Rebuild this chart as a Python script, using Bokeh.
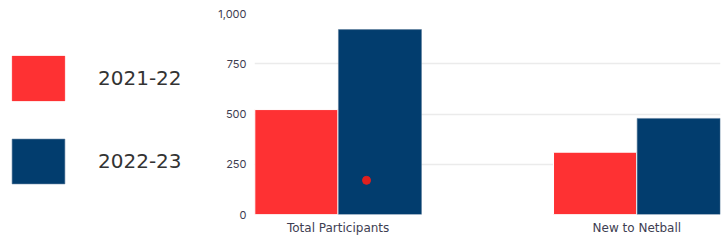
from bokeh.plotting import figure
from bokeh.layouts import row
from bokeh.models import ColumnDataSource, FixedTicker, Legend, LegendItem, NumeralTickFormatter, Range1d
from bokeh.embed import file_html
from bokeh.resources import INLINE

categories = ["Total Participants", "New to Netball"]
seasons = ["2021-22", "2022-23"]
values_2021_22 = [522, 310]
values_2022_23 = [920, 478]
colors = ["#FE3133", "#023D6E"]
y_ticks = [0, 250, 500, 750, 1000]
marker_offset = [0.095]
marker_value = [170]

xs = list(range(len(categories)))
bw = 0.278
off = 0.14
H = 241

p = figure(width=514, height=H, output_backend="svg", toolbar_location=None,
           x_range=Range1d(-0.28, len(categories) - 1 + 0.28), y_range=Range1d(0, 1000),
           min_border_left=46, min_border_right=2, min_border_top=13, min_border_bottom=27)
p.outline_line_color = None

s1 = ColumnDataSource(dict(x=[x - off for x in xs], top=values_2021_22))
s2 = ColumnDataSource(dict(x=[x + off for x in xs], top=values_2022_23))
p.vbar(x="x", top="top", width=bw, source=s1, fill_color=colors[0], line_color="white", line_width=1)
p.vbar(x="x", top="top", width=bw, source=s2, fill_color=colors[1], line_color="#5a7a9a", line_width=0.6)

p.scatter(x=[xs[0] + marker_offset[0]], y=marker_value, size=8, color="#E0201E")

p.xaxis.ticker = FixedTicker(ticks=xs)
p.xaxis.major_label_overrides = {i: c for i, c in enumerate(categories)}
p.xaxis.axis_line_color = None
p.xaxis.major_tick_line_color = None
p.xaxis.minor_tick_line_color = None
p.xaxis.major_label_text_font = "DejaVu Sans"
p.xaxis.major_label_text_font_size = "12px"
p.xaxis.major_label_text_color = "#3e3e52"
p.xaxis.major_label_standoff = 0
p.xgrid.grid_line_color = None

p.yaxis.ticker = FixedTicker(ticks=y_ticks)
p.yaxis.formatter = NumeralTickFormatter(format="0,0")
p.yaxis.axis_line_color = None
p.yaxis.major_tick_line_color = None
p.yaxis.minor_tick_line_color = None
p.yaxis.major_label_text_font = "Inter"
p.yaxis.major_label_text_font_size = "11px"
p.yaxis.major_label_text_color = "#3e3e52"
p.yaxis.major_label_standoff = 2
p.ygrid.grid_line_color = "#ebebeb"
p.ygrid.grid_line_width = 1.5

# legend panel
lg = figure(width=208, height=H, output_backend="svg", toolbar_location=None,
            x_axis_type=None, y_axis_type=None, min_border=0,
            x_range=Range1d(0, 1), y_range=Range1d(0, 1))
lg.outline_line_color = None
lg.grid.grid_line_color = None
l1 = lg.vbar(x=[5], top=[1], width=1, fill_color=colors[0], line_color=colors[0], line_alpha=0.3)
l2 = lg.vbar(x=[5], top=[1], width=1, fill_color=colors[1], line_color="#5a7a9a", line_width=0.6)
legend = Legend(items=[LegendItem(label=seasons[0], renderers=[l1]),
                       LegendItem(label=seasons[1], renderers=[l2])],
                glyph_width=66, glyph_height=56, spacing=27, label_standoff=27,
                label_text_font="DejaVu Sans", label_text_font_size="20px",
                label_text_color="#333333", border_line_color=None,
                background_fill_alpha=0, padding=4, margin=0, location=(5, 25))
lg.add_layout(legend)

layout = row(lg, p)
open("out.html", "w").write(file_html(layout, INLINE))
